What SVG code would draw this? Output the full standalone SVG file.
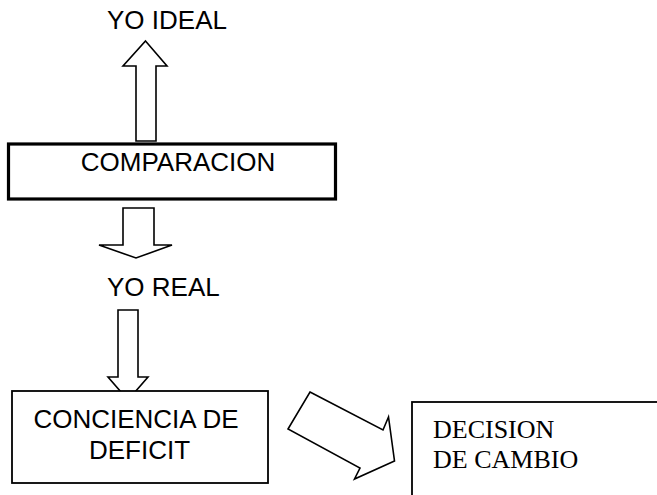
<svg xmlns="http://www.w3.org/2000/svg" width="657" height="495" viewBox="0 0 657 495">
<style>
  .bg{fill:#fff}
  .box{fill:#fff;stroke:#000;stroke-width:1.8}
  .thick{stroke-width:3.2}
  .arrow{fill:#fff;stroke:#000;stroke-width:1.6;stroke-linejoin:miter}
  .sans{font-family:"Liberation Sans",Arial,sans-serif;font-size:26px;fill:#000}
  .serif{font-family:"Liberation Serif","Times New Roman",serif;font-size:26px;fill:#000}
</style>
<rect class="bg" x="0" y="0" width="657" height="495"/>
<g id="connectors">
  <polygon class="arrow" points="145.5,41 167,66 156,66 156,141 136,141 136,66 123,66"/>
  <polygon class="arrow" points="123,208 154,208 154,245 172,245 136,258 99,245 123,245"/>
  <polygon class="arrow" points="118,310 138,310 138,377 148,377 128,400 108,377 118,377"/>
  <polygon class="arrow" points="310,392 383,430 388.5,417 394.5,461 354.5,479 360,468 288,429"/>
</g>
<g id="yo-ideal">
  <text class="sans" x="107" y="28.5">YO IDEAL</text>
</g>
<g id="comparacion">
  <rect class="box thick" x="8.5" y="144" width="327" height="55"/>
  <text class="sans" x="178" y="171" text-anchor="middle">COMPARACION</text>
</g>
<g id="yo-real">
  <text class="sans" x="107" y="296">YO REAL</text>
</g>
<g id="conciencia">
  <rect class="box" x="12" y="391" width="256" height="92"/>
  <text class="sans" x="136" y="428" text-anchor="middle">CONCIENCIA DE</text>
  <text class="sans" x="139.5" y="459" text-anchor="middle">DEFICIT</text>
</g>
<g id="decision">
  <rect class="box" x="412" y="402" width="280" height="120"/>
  <text class="serif" x="433" y="438">DECISION</text>
  <text class="serif" x="433" y="468">DE CAMBIO</text>
</g>
</svg>
